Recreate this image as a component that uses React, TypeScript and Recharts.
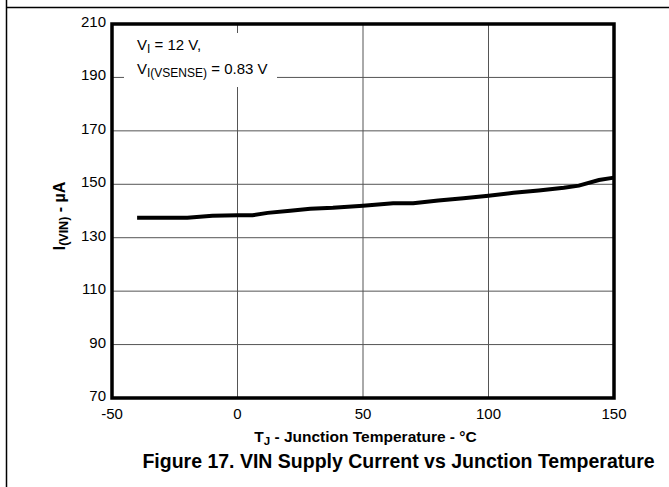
import React from "react";
import { LineChart, Line, XAxis, YAxis, CartesianGrid, ReferenceArea } from "recharts";

// junction temperature (°C) and VIN supply current (µA)
const temperature = [-40, -20, -10, 0, 6, 12, 21, 29, 38, 50, 62, 70, 80, 90, 100, 110, 120, 130, 136, 144, 150];
const supplyCurrent = [
  137.5, 137.5, 138.2, 138.4, 138.4, 139.3, 140.1, 140.8, 141.2, 142, 142.9, 142.9, 143.9, 144.8, 145.7, 146.8,
  147.7, 148.7, 149.5, 151.6, 152.5,
];
const xTicks = [-50, 0, 50, 100, 150];
const yTicks = [70, 90, 110, 130, 150, 170, 190, 210];

const data = temperature.map((t, i) => ({ t, current: supplyCurrent[i] }));

const FONT = '"Liberation Sans", Arial, Helvetica, sans-serif';

const XTick = (props: any) => (
  <text x={props.x} y={props.y} dy={10.5} textAnchor="middle" fontSize={15} fontFamily={FONT} fill="#000">
    {props.payload.value}
  </text>
);

const YTick = (props: any) => (
  <text x={props.x} y={props.y} dy={3} textAnchor="end" fontSize={15} fontFamily={FONT} fill="#000">
    {props.payload.value}
  </text>
);

export default function App() {
  return (
    <div style={{ position: "absolute", left: 0, top: 0, width: 669, height: 487, background: "#fff", fontFamily: FONT }}>
      <LineChart width={669} height={487} data={data} margin={{ top: 24, right: 55, bottom: 59, left: 0 }}>
        <CartesianGrid stroke="#555" strokeWidth={1} />
        <XAxis
          type="number"
          dataKey="t"
          domain={[-50, 150]}
          ticks={xTicks}
          height={30}
          axisLine={false}
          tickLine={false}
          tickSize={0}
          tickMargin={10}
          tick={XTick}
        />
        <YAxis
          type="number"
          domain={[70, 210]}
          ticks={yTicks}
          width={112}
          axisLine={false}
          tickLine={false}
          tickSize={0}
          tickMargin={6}
          tick={YTick}
        />
        <ReferenceArea x1={-50} x2={150} y1={70} y2={210} fill="none" stroke="#000" strokeWidth={3.5} ifOverflow="visible" />
        <Line
          type="linear"
          dataKey="current"
          stroke="#000"
          strokeWidth={4}
          dot={false}
          isAnimationActive={false}
        />
      </LineChart>
      <svg
        width={669}
        height={487}
        style={{ position: "absolute", left: 0, top: 0, pointerEvents: "none" }}
        fontFamily={FONT}
      >
        <line x1={6.5} y1={0} x2={6.5} y2={487} stroke="#000" strokeWidth={1.5} />
        <line x1={6} y1={7.5} x2={669} y2={7.5} stroke="#000" strokeWidth={1.5} />

        <rect x={124} y={33} width={153} height={54} fill="#fff" />
        <text x={137} y={49.5} fontSize={15} fill="#000">
          V<tspan fontSize={12} dy={3}>I</tspan>
          <tspan dy={-3}> = 12 V,</tspan>
        </text>
        <text x={137} y={73.5} fontSize={15} fill="#000">
          V<tspan fontSize={12} dy={3}>I(VSENSE)</tspan>
          <tspan dy={-3}> = 0.83 V</tspan>
        </text>

        <text
          x={65}
          y={216}
          transform="rotate(-90 65 216)"
          textAnchor="middle"
          fontSize={16}
          fontWeight="bold"
          fill="#000"
        >
          I<tspan fontSize={12.5} dy={3}>(VIN)</tspan>
          <tspan dy={-3}> - µA</tspan>
        </text>

        <text x={365.5} y={442} textAnchor="middle" fontSize={15.5} fontWeight="bold" fill="#000">
          T<tspan fontSize={11.5} dy={3}>J</tspan>
          <tspan dy={-3}> - Junction Temperature - °C</tspan>
        </text>

        <text x={398.5} y={468} textAnchor="middle" fontSize={19.5} fontWeight="bold" fill="#000">
          Figure 17. VIN Supply Current vs Junction Temperature
        </text>
      </svg>
    </div>
  );
}
